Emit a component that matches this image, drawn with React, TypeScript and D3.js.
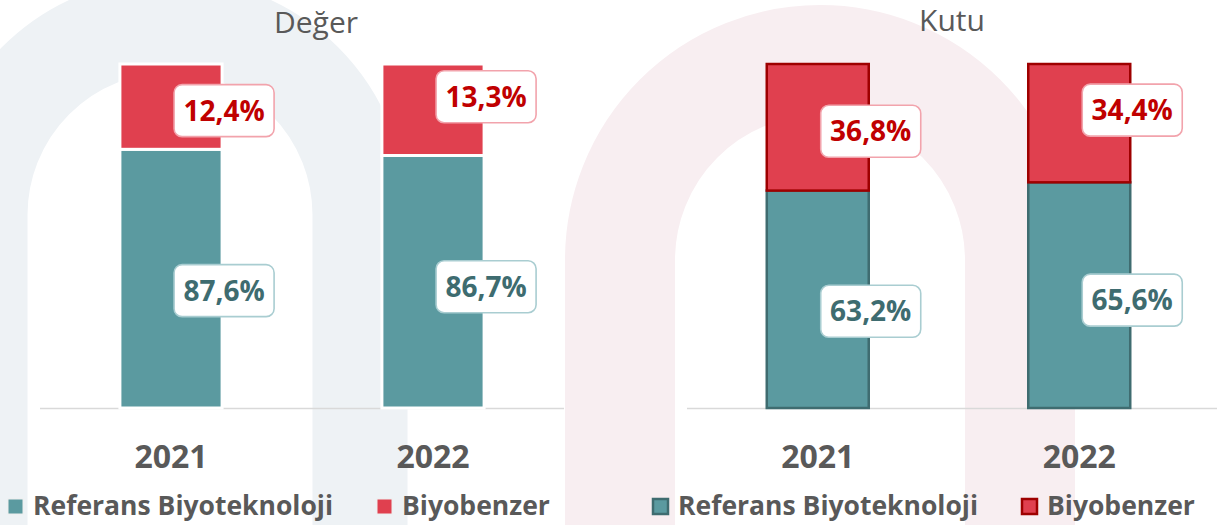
import React from "react";
import * as d3 from "d3";

// ---- data ----
const years = ["2021", "2022"];
const seriesNames = ["Referans Biyoteknoloji", "Biyobenzer"];
const degerReferans = [87.6, 86.7];
const degerBiyobenzer = [12.4, 13.3];
const kutuReferans = [63.2, 65.6];
const kutuBiyobenzer = [36.8, 34.4];
const chartTitles = ["Değer", "Kutu"];

// ---- styles ----
const W = 1217;
const H = 525;
const FONT = "'Open Sans', 'Noto Sans', sans-serif";
const GRAY = "#595959";
const TEAL = "#5B9AA0";
const TEAL_DARK = "#3F6C70";
const RED = "#E0404F";
const RED_DARK = "#9E0000";
const RED_TEXT = "#C00000";
const TEAL_TEXT = "#3E6C70";

const fmt = (v: number) => v.toFixed(1).replace(".", ",") + "%";

// per-year label nudges (layout only)
const nudgeRed = [4, -13];
const nudgeTeal = [12, 5];

type ChartProps = {
  title: string;
  titleX: number;
  titleY: number;
  ref: number[];
  bio: number[];
  x0: number;
  x1: number;
  axisEnd: number;
  yMin: number;
  outlined: boolean;
  legendX: number[];
};

function StackChart(p: ChartProps) {
  const x = d3
    .scaleBand<string>()
    .domain(years)
    .range([p.x0, p.x1])
    .paddingInner(0.61)
    .paddingOuter(0.305);
  const y = d3.scaleLinear().domain([p.yMin, 100]).range([408, 64]).clamp(true);
  const rows = years.map((yr, i) => ({ year: yr, ref: p.ref[i], bio: p.bio[i] }));
  const stack = d3.stack<any>().keys(["ref", "bio"])(rows);
  const fills = [TEAL, RED];
  const strokes = p.outlined ? [TEAL_DARK, RED_DARK] : ["#ffffff", "#ffffff"];
  const sw = p.outlined ? 2.5 : 3;
  const labelBorders = ["#A9CDD1", "#F2A3AC"];
  const labelText = [TEAL_TEXT, RED_TEXT];
  const bw = x.bandwidth();
  return (
    <g>
      <text x={p.titleX} y={p.titleY} textAnchor="middle" fontFamily={FONT} fontSize={30} fill={GRAY}>
        {p.title}
      </text>
      <line x1={p.x0} x2={p.axisEnd} y1={408.5} y2={408.5} stroke="#D9D9D9" strokeWidth={1.5} />
      {stack.map((s, si) =>
        s.map((d, i) => {
          const yr = years[i];
          const top = y(d[1]);
          const bot = y(d[0]);
          return (
            <rect
              key={si + "-" + i}
              x={x(yr)}
              y={top}
              width={bw}
              height={bot - top}
              fill={fills[si]}
              stroke={strokes[si]}
              strokeWidth={sw}
            />
          );
        })
      )}
      {stack.map((s, si) =>
        s.map((d, i) => {
          const yr = years[i];
          const mid = (y(d[1]) + y(d[0])) / 2 + (si === 1 ? nudgeRed[i] : nudgeTeal[i]);
          const cx = (x(yr) as number) + bw + 2;
          const val = si === 0 ? p.ref[i] : p.bio[i];
          return (
            <g key={"l" + si + "-" + i}>
              <rect
                x={cx - 50}
                y={mid - 26}
                width={100}
                height={52}
                rx={8}
                fill="#ffffff"
                stroke={labelBorders[si]}
                strokeWidth={1.6}
              />
              <text
                x={cx}
                y={mid + 10}
                textAnchor="middle"
                fontFamily={FONT}
                fontWeight={700}
                fontSize={28}
                fill={labelText[si]}
              >
                {fmt(val)}
              </text>
            </g>
          );
        })
      )}
      {years.map((yr) => (
        <text
          key={"y" + yr}
          x={(x(yr) as number) + bw / 2}
          y={468}
          textAnchor="middle"
          fontFamily={FONT}
          fontWeight={700}
          fontSize={32}
          fill={GRAY}
        >
          {yr}
        </text>
      ))}
      {seriesNames.map((name, si) => (
        <g key={"lg" + si}>
          <rect
            x={p.legendX[si]}
            y={499}
            width={15}
            height={15}
            fill={fills[si]}
            stroke={p.outlined ? strokes[si] : "#eeeeee"}
            strokeWidth={p.outlined ? 2.5 : 1}
          />
          <text
            x={p.legendX[si] + 25}
            y={515}
            fontFamily={FONT}
            fontWeight={700}
            fontSize={26.5}
            fill={GRAY}
          >
            {name}
          </text>
        </g>
      ))}
    </g>
  );
}

function Watermark() {
  const arch = (cx: number, r: number, top: number) => {
    const base = H + 10;
    return `M${cx - r},${base} L${cx - r},${top + r} A${r},${r} 0 0 1 ${cx + r},${top + r} L${cx + r},${base}`;
  };
  return (
    <g fill="none">
      <path d={arch(170, 190, 25)} stroke="#EEF2F5" strokeWidth={95} />
      <path d={arch(820, 200, 60)} stroke="#F8EEF1" strokeWidth={110} />
    </g>
  );
}

export default function App() {
  return (
    <svg
      width={W}
      height={H}
      style={{ position: "absolute", left: 0, top: 0, background: "#ffffff" }}
    >
      <rect x={0} y={0} width={W} height={H} fill="#ffffff" />
      <Watermark />
      <StackChart
        title={chartTitles[0]}
        titleX={316}
        titleY={33}
        ref={degerReferans}
        bio={degerBiyobenzer}
        x0={40}
        x1={564}
        axisEnd={564}
        yMin={50}
        outlined={false}
        legendX={[8, 377]}
      />
      <StackChart
        title={chartTitles[1]}
        titleX={952}
        titleY={31}
        ref={kutuReferans}
        bio={kutuBiyobenzer}
        x0={687}
        x1={1210}
        axisEnd={1217}
        yMin={0}
        outlined={true}
        legendX={[653, 1022]}
      />
    </svg>
  );
}
